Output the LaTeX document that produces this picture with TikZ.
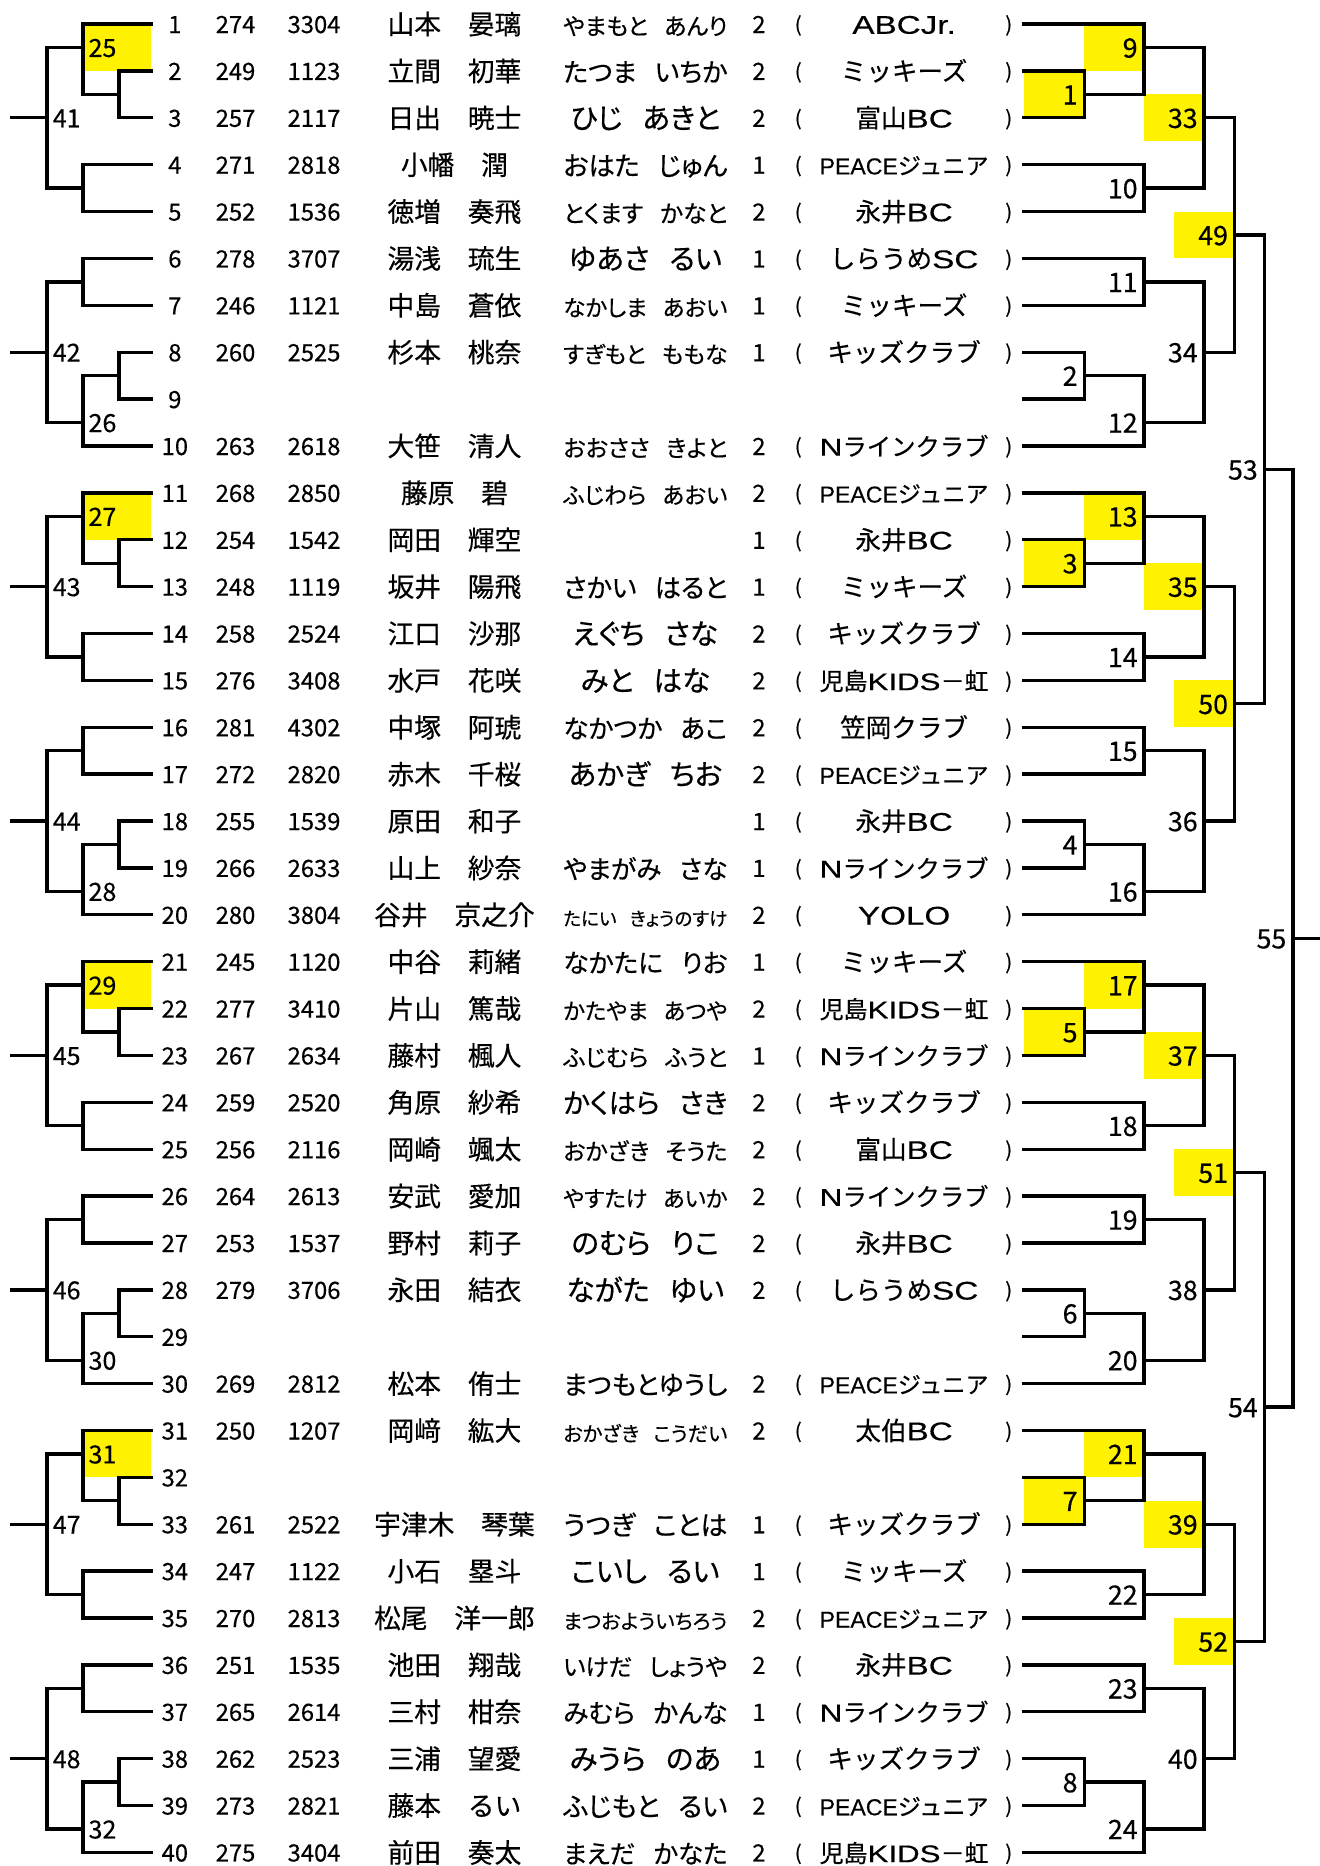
\documentclass[tikz,border=0pt]{standalone}
\usepackage{fontspec}
\usepackage{graphicx}
\setmainfont{Noto Sans CJK JP}[FakeBold=0.4]
\newfontfamily\kanafont[RawFeature=+palt, FakeBold=0.4]{Noto Sans CJK JP}
\newfontfamily\lat[FakeBold=0.3]{Liberation Sans}
\newfontfamily\wlat[FakeStretch=1.3, FakeBold=0.3]{Liberation Sans}

\newsavebox\fitbox
% shrink a cell text to a maximum width
\newcommand\fitto[2]{\sbox\fitbox{#2}\ifdim\wd\fitbox>#1\relax\resizebox{#1}{!}{\usebox\fitbox}\else\usebox\fitbox\fi}
\newcommand\ks{\hspace{0.7em}}

\tikzset{
    txt/.style={inner sep=0pt, anchor=center},
    num/.style={txt, font=\fontsize{20pt}{24pt}\selectfont, text height=17.2pt, text depth=2pt},
    nm/.style={txt, font=\fontsize{22.5pt}{26pt}\selectfont, text height=19.35pt, text depth=2.25pt},
    kn/.style={txt, font=\kanafont\fontsize{24pt}{28pt}\selectfont, text height=20.6pt, text depth=2.4pt},
    tm/.style={txt, font=\fontsize{21.5pt}{26pt}\selectfont, text height=18.5pt, text depth=2.15pt},
    paren/.style={txt, font=\fontsize{17pt}{20pt}\selectfont, text height=14.6pt, text depth=1.7pt},
    lab/.style={txt, anchor=west, font=\fontsize{21pt}{24pt}\selectfont, text height=18.06pt, text depth=2.1pt},
    rlab/.style={txt, anchor=east, font=\fontsize{22.5pt}{26pt}\selectfont, text height=19.35pt, text depth=2.25pt},
    hit/.style={fill=yellow},
    brk/.style={line width=2.8pt, line cap=rect}
}

% one row of the entry list
\newcommand\entry[7]{%
    \node[num] (no#1) at (147,#1) {#1};
    \node[num] (id#1) at (198,#1) {#2};
    \node[num] (rg#1) at (264,#1) {#3};
    \node[nm] (nm#1) at (382,#1) {#4};
    \node[kn] (kn#1) at (542.5,#1) {\fitto{138pt}{#5}};
    \node[num] (gr#1) at (638,#1) {#6};
    \node[paren] (po#1) at (671,#1) {(};
    \node[tm] (tm#1) at (760,#1) {\fitto{142pt}{#7}};
    \node[paren] (pc#1) at (848,#1) {)};
}

% left brackets
\newcommand\leftA[3]{%
    \fill[hit] (69.7,#1) rectangle (127.3,#1+1);
    \draw[brk] (127.3,#1) -- (69.7,#1) -- (69.7,#1+1.5) -- (100,#1+1.5);
    \draw[brk] (127.3,#1+1) -- (100,#1+1) -- (100,#1+2) -- (127.3,#1+2);
    \draw[brk] (127.3,#1+3) -- (69.7,#1+3) -- (69.7,#1+4) -- (127.3,#1+4);
    \draw[brk] (69.7,#1+0.5) -- (39.6,#1+0.5) -- (39.6,#1+3.5) -- (69.7,#1+3.5);
    \draw[brk] (39.6,#1+2) -- (9.9,#1+2);
    \node[lab] (m#2) at (74.3,#1+0.5) {#2};
    \node[lab] (m#3) at (44.2,#1+2) {#3};
}
\newcommand\leftB[3]{%
    \draw[brk] (127.3,#1) -- (69.7,#1) -- (69.7,#1+1) -- (127.3,#1+1);
    \draw[brk] (127.3,#1+2) -- (100,#1+2) -- (100,#1+3) -- (127.3,#1+3);
    \draw[brk] (100,#1+2.5) -- (69.7,#1+2.5) -- (69.7,#1+4) -- (127.3,#1+4);
    \draw[brk] (69.7,#1+0.5) -- (39.6,#1+0.5) -- (39.6,#1+3.5) -- (69.7,#1+3.5);
    \draw[brk] (39.6,#1+2) -- (9.9,#1+2);
    \node[lab] (m#2) at (74.3,#1+3.5) {#2};
    \node[lab] (m#3) at (44.2,#1+2) {#3};
}

% right brackets
\newcommand\rightA[5]{%
    \fill[hit] (860.8,#1+1) rectangle (911.5,#1+2);
    \fill[hit] (911.5,#1) rectangle (961.7,#1+1);
    \fill[hit] (961.7,#1+1.5) rectangle (1012,#1+2.5);
    \draw[brk] (860.8,#1) -- (961.7,#1) -- (961.7,#1+1.5) -- (911.5,#1+1.5);
    \draw[brk] (860.8,#1+1) -- (911.5,#1+1) -- (911.5,#1+2) -- (860.8,#1+2);
    \draw[brk] (860.8,#1+3) -- (961.7,#1+3) -- (961.7,#1+4) -- (860.8,#1+4);
    \draw[brk] (961.7,#1+0.5) -- (1012,#1+0.5) -- (1012,#1+3.5) -- (961.7,#1+3.5);
    \node[rlab] (m#2) at (906,#1+1.5) {#2};
    \node[rlab] (m#3) at (956.5,#1+0.5) {#3};
    \node[rlab] (m#4) at (956.5,#1+3.5) {#4};
    \node[rlab] (m#5) at (1007,#1+2) {#5};
}
\newcommand\rightB[5]{%
    \draw[brk] (860.8,#1) -- (961.7,#1) -- (961.7,#1+1) -- (860.8,#1+1);
    \draw[brk] (860.8,#1+2) -- (911.5,#1+2) -- (911.5,#1+3) -- (860.8,#1+3);
    \draw[brk] (911.5,#1+2.5) -- (961.7,#1+2.5) -- (961.7,#1+4) -- (860.8,#1+4);
    \draw[brk] (961.7,#1+0.5) -- (1012,#1+0.5) -- (1012,#1+3.5) -- (961.7,#1+3.5);
    \node[rlab] (m#2) at (956.5,#1+0.5) {#2};
    \node[rlab] (m#3) at (906,#1+2.5) {#3};
    \node[rlab] (m#4) at (956.5,#1+3.5) {#4};
    \node[rlab] (m#5) at (1007,#1+2) {#5};
}
\newcommand\rightC[2]{%
    \fill[hit] (987,#1+4) rectangle (1037.7,#1+5);
    \draw[brk] (1012,#1+2) -- (1037.7,#1+2) -- (1037.7,#1+7) -- (1012,#1+7);
    \draw[brk] (1037.7,#1+4.5) -- (1063,#1+4.5);
    \node[rlab] (m#2) at (1032.5,#1+4.5) {#2};
}

\begin{document}
\begin{tikzpicture}[x=1pt, y=-39.41pt]
    \useasboundingbox (0,0.4874) rectangle (1108.8,40.29);

    \entry{1}{274}{3304}{山本　晏璃}{やまもと\ks あんり}{2}{{\wlat ABCJr.}}
    \entry{2}{249}{1123}{立間　初華}{たつま\ks いちか}{2}{ミッキーズ}
    \entry{3}{257}{2117}{日出　暁士}{ひじ\ks あきと}{2}{富山{\wlat BC}}
    \entry{4}{271}{2818}{小幡　潤}{おはた\ks じゅん}{1}{{\lat PEACE}ジュニア}
    \entry{5}{252}{1536}{徳増　奏飛}{とくます\ks かなと}{2}{永井{\wlat BC}}
    \entry{6}{278}{3707}{湯浅　琉生}{ゆあさ\ks るい}{1}{しらうめ{\wlat SC}}
    \entry{7}{246}{1121}{中島　蒼依}{なかしま\ks あおい}{1}{ミッキーズ}
    \entry{8}{260}{2525}{杉本　桃奈}{すぎもと\ks ももな}{1}{キッズクラブ}
    \node[num] (no9) at (147,9) {9};
    \entry{10}{263}{2618}{大笹　清人}{おおささ\ks きよと}{2}{{\wlat N}ラインクラブ}
    \entry{11}{268}{2850}{藤原　碧}{ふじわら\ks あおい}{2}{{\lat PEACE}ジュニア}
    \entry{12}{254}{1542}{岡田　輝空}{}{1}{永井{\wlat BC}}
    \entry{13}{248}{1119}{坂井　陽飛}{さかい\ks はると}{1}{ミッキーズ}
    \entry{14}{258}{2524}{江口　沙那}{えぐち\ks さな}{2}{キッズクラブ}
    \entry{15}{276}{3408}{水戸　花咲}{みと\ks はな}{2}{児島{\wlat KIDS}－虹}
    \entry{16}{281}{4302}{中塚　阿琥}{なかつか\ks あこ}{2}{笠岡クラブ}
    \entry{17}{272}{2820}{赤木　千桜}{あかぎ\ks ちお}{2}{{\lat PEACE}ジュニア}
    \entry{18}{255}{1539}{原田　和子}{}{1}{永井{\wlat BC}}
    \entry{19}{266}{2633}{山上　紗奈}{やまがみ\ks さな}{1}{{\wlat N}ラインクラブ}
    \entry{20}{280}{3804}{谷井　京之介}{たにい\ks きょうのすけ}{2}{{\wlat YOLO}}
    \entry{21}{245}{1120}{中谷　莉緒}{なかたに\ks りお}{1}{ミッキーズ}
    \entry{22}{277}{3410}{片山　篤哉}{かたやま\ks あつや}{2}{児島{\wlat KIDS}－虹}
    \entry{23}{267}{2634}{藤村　楓人}{ふじむら\ks ふうと}{1}{{\wlat N}ラインクラブ}
    \entry{24}{259}{2520}{角原　紗希}{かくはら\ks さき}{2}{キッズクラブ}
    \entry{25}{256}{2116}{岡崎　颯太}{おかざき\ks そうた}{2}{富山{\wlat BC}}
    \entry{26}{264}{2613}{安武　愛加}{やすたけ\ks あいか}{2}{{\wlat N}ラインクラブ}
    \entry{27}{253}{1537}{野村　莉子}{のむら\ks りこ}{2}{永井{\wlat BC}}
    \entry{28}{279}{3706}{永田　結衣}{ながた\ks ゆい}{2}{しらうめ{\wlat SC}}
    \node[num] (no29) at (147,29) {29};
    \entry{30}{269}{2812}{松本　侑士}{まつもとゆうし}{2}{{\lat PEACE}ジュニア}
    \entry{31}{250}{1207}{岡﨑　紘大}{おかざき\ks こうだい}{2}{太伯{\wlat BC}}
    \node[num] (no32) at (147,32) {32};
    \entry{33}{261}{2522}{宇津木　琴葉}{うつぎ\ks ことは}{1}{キッズクラブ}
    \entry{34}{247}{1122}{小石　塁斗}{こいし\ks るい}{1}{ミッキーズ}
    \entry{35}{270}{2813}{松尾　洋一郎}{まつおよういちろう}{2}{{\lat PEACE}ジュニア}
    \entry{36}{251}{1535}{池田　翔哉}{いけだ\ks しょうや}{2}{永井{\wlat BC}}
    \entry{37}{265}{2614}{三村　柑奈}{みむら\ks かんな}{1}{{\wlat N}ラインクラブ}
    \entry{38}{262}{2523}{三浦　望愛}{みうら\ks のあ}{1}{キッズクラブ}
    \entry{39}{273}{2821}{藤本　るい}{ふじもと\ks るい}{2}{{\lat PEACE}ジュニア}
    \entry{40}{275}{3404}{前田　奏太}{まえだ\ks かなた}{2}{児島{\wlat KIDS}－虹}

    \leftA{1}{25}{41}
    \leftB{6}{26}{42}
    \leftA{11}{27}{43}
    \leftB{16}{28}{44}
    \leftA{21}{29}{45}
    \leftB{26}{30}{46}
    \leftA{31}{31}{47}
    \leftB{36}{32}{48}

    \rightA{1}{1}{9}{10}{33}
    \rightB{6}{11}{2}{12}{34}
    \rightA{11}{3}{13}{14}{35}
    \rightB{16}{15}{4}{16}{36}
    \rightA{21}{5}{17}{18}{37}
    \rightB{26}{19}{6}{20}{38}
    \rightA{31}{7}{21}{22}{39}
    \rightB{36}{23}{8}{24}{40}

    \rightC{1}{49}
    \rightC{11}{50}
    \rightC{21}{51}
    \rightC{31}{52}

    \draw[brk] (1063,5.5) -- (1063,15.5);
    \draw[brk] (1063,10.5) -- (1087,10.5);
    \draw[brk] (1063,25.5) -- (1063,35.5);
    \draw[brk] (1063,30.5) -- (1087,30.5);
    \draw[brk] (1087,10.5) -- (1087,30.5);
    \draw[brk] (1087,20.5) -- (1108.8,20.5);
    \node[rlab] (m53) at (1057.5,10.5) {53};
    \node[rlab] (m54) at (1057.5,30.5) {54};
    \node[rlab] (m55) at (1081.5,20.5) {55};
\end{tikzpicture}
\end{document}
